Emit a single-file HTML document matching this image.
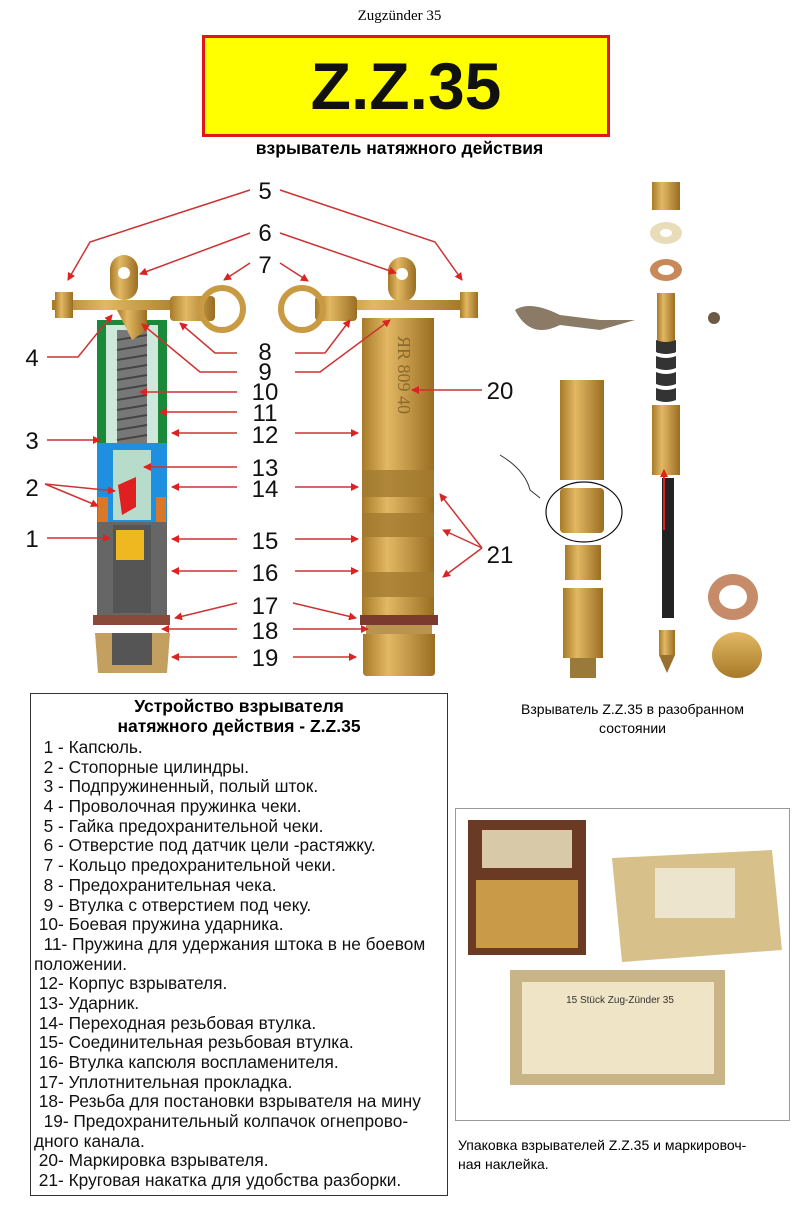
<!DOCTYPE html>
<html><head><meta charset="utf-8"><style>
body{margin:0;background:#fff;width:799px;height:1209px;overflow:hidden;position:relative;font-family:"Liberation Sans",sans-serif}
.abs{position:absolute}
.list div{height:19.7px;line-height:19.7px;white-space:nowrap}
</style></head><body>
<div class="abs" style="left:0;top:8px;width:799px;text-align:center;font-family:'Liberation Serif',serif;font-size:15px">Zugzünder 35</div>
<div class="abs" style="left:202px;top:35px;width:402px;height:96px;background:#ffff00;border:3px solid #e0161b;text-align:center;line-height:96px;font-weight:bold;font-size:66px;color:#111">Z.Z.35</div>
<div class="abs" style="left:0;top:138px;width:799px;text-align:center;font-weight:bold;font-size:17.5px">взрыватель натяжного действия</div>

<svg class="abs" style="left:0;top:0" width="799" height="1209">
<defs>
<marker id="ar" markerWidth="8" markerHeight="8" refX="7" refY="4" orient="auto" markerUnits="userSpaceOnUse"><path d="M0,0L8,4L0,8z" fill="#d22"/></marker>
<linearGradient id="g" x1="0" x2="1"><stop offset="0" stop-color="#a77a28"/><stop offset=".35" stop-color="#e2b864"/><stop offset="1" stop-color="#9a6e22"/></linearGradient>
<linearGradient id="gv" x1="0" y1="0" x2="0" y2="1"><stop offset="0" stop-color="#e2b864"/><stop offset="1" stop-color="#a77a28"/></linearGradient>
</defs>
<!-- LEFT cutaway -->
<rect x="110" y="255" width="28" height="45" rx="14" fill="url(#g)"/><circle cx="124" cy="273" r="6" fill="#fff"/>
<rect x="52" y="300" width="150" height="10" fill="url(#g)"/>
<rect x="55" y="292" width="18" height="26" fill="url(#g)"/>
<rect x="170" y="296" width="45" height="25" rx="4" fill="url(#g)"/>
<circle cx="222" cy="309" r="21" fill="none" stroke="#c89a42" stroke-width="6"/>
<rect x="97" y="320" width="70" height="147" fill="#1a8a3a"/>
<rect x="106" y="325" width="52" height="135" fill="#cfe8dc"/>
<rect x="117" y="330" width="30" height="120" fill="#777"/>
<g stroke="#444" stroke-width="2"><path d="M117,340l30,-5M117,350l30,-5M117,360l30,-5M117,370l30,-5M117,380l30,-5M117,390l30,-5M117,400l30,-5M117,410l30,-5M117,420l30,-5M117,430l30,-5M117,440l30,-5"/></g>
<path d="M117,310h30v20l-15,10z" fill="url(#g)"/>
<rect x="97" y="443" width="70" height="79" fill="#1f8fe0"/>
<rect x="113" y="450" width="38" height="70" fill="#b8dccc"/>
<path d="M118,485l18,-8v30l-14,8z" fill="#e02020"/>
<rect x="98" y="497" width="10" height="40" fill="#d8782a"/><rect x="156" y="497" width="10" height="40" fill="#d8782a"/>
<rect x="97" y="522" width="70" height="93" fill="#666"/>
<rect x="113" y="525" width="38" height="88" fill="#555"/>
<rect x="116" y="530" width="28" height="30" fill="#f0b820"/>
<rect x="93" y="615" width="77" height="10" fill="#8a4a3a"/>
<path d="M95,633h75l-3,40h-69z" fill="#c4a060"/><rect x="112" y="633" width="40" height="32" fill="#555"/>
<!-- RIGHT -->
<rect x="388" y="257" width="28" height="45" rx="14" fill="url(#g)"/><circle cx="402" cy="274" r="6" fill="#fff"/>
<rect x="318" y="300" width="158" height="10" fill="url(#g)"/>
<rect x="460" y="292" width="18" height="26" fill="url(#g)"/>
<rect x="315" y="296" width="42" height="25" rx="4" fill="url(#g)"/>
<circle cx="302" cy="309" r="21" fill="none" stroke="#c89a42" stroke-width="6"/>
<rect x="362" y="318" width="72" height="297" fill="url(#g)"/>
<g fill="#a37a30" opacity=".8"><rect x="362" y="470" width="72" height="27"/><rect x="362" y="513" width="72" height="24"/><rect x="362" y="572" width="72" height="25"/></g>
<text x="398" y="330" transform="rotate(90 398 330)" font-family="Liberation Serif" font-size="18" fill="#8a6a30" dx="6">ЯR  809   40</text>
<rect x="360" y="615" width="78" height="10" fill="#7a3a2e"/>
<rect x="366" y="625" width="66" height="9" fill="#b99450"/>
<path d="M363,634h72v38q0,4,-4,4h-64q-4,0,-4,-4z" fill="url(#g)"/>
<!-- numbers -->
<g font-size="24" fill="#111" text-anchor="middle">
<text x="265" y="199">5</text><text x="265" y="241">6</text><text x="265" y="273">7</text>
<text x="265" y="360">8</text><text x="265" y="380">9</text><text x="265" y="400">10</text><text x="265" y="421">11</text>
<text x="265" y="443">12</text><text x="265" y="476">13</text><text x="265" y="497">14</text><text x="265" y="549">15</text>
<text x="265" y="581">16</text><text x="265" y="614">17</text><text x="265" y="639">18</text><text x="265" y="666">19</text>
<text x="32" y="366">4</text><text x="32" y="449">3</text><text x="32" y="496">2</text><text x="32" y="547">1</text>
<text x="500" y="399">20</text><text x="500" y="563">21</text>
</g>
<g stroke="#c33" stroke-width="1.5" fill="none" marker-end="url(#ar)">
<path d="M250,190L90,242L68,280"/><path d="M280,190L435,242L462,280"/>
<path d="M250,233L140,274"/><path d="M280,233L396,273"/>
<path d="M250,263L224,280"/><path d="M280,263L308,281"/>
<path d="M237,353H215L180,323"/><path d="M295,353H325L350,320"/>
<path d="M237,372H200L142,324"/><path d="M295,372H320L390,320"/>
<path d="M237,392H140"/><path d="M237,412H160"/>
<path d="M237,433H172"/><path d="M295,433H358"/>
<path d="M237,467H144"/><path d="M237,487H172"/><path d="M295,487H358"/>
<path d="M237,539H172"/><path d="M295,539H358"/>
<path d="M237,571H172"/><path d="M295,571H358"/>
<path d="M237,603L175,618"/><path d="M293,603L356,618"/>
<path d="M237,629H162"/><path d="M293,629H368"/>
<path d="M237,657H172"/><path d="M293,657H356"/>
<path d="M482,390H412"/>
<path d="M47,357H78L112,315"/><path d="M47,440H100"/><path d="M47,538H110"/>
<path d="M45,484L115,491"/><path d="M45,484L98,506"/>
<path d="M482,548L440,494"/><path d="M482,548L443,530"/><path d="M482,548L443,577"/>
</g>
<!-- exploded parts -->
<rect x="652" y="182" width="28" height="28" fill="url(#g)"/>
<ellipse cx="666" cy="233" rx="16" ry="11" fill="#e8ddb8"/><ellipse cx="666" cy="233" rx="6" ry="4" fill="#fff"/>
<ellipse cx="666" cy="270" rx="16" ry="11" fill="#c98858"/><ellipse cx="666" cy="270" rx="8" ry="5" fill="#fff"/>
<rect x="657" y="293" width="18" height="60" fill="url(#g)"/>
<path d="M656,340q10,4 20,0v12q-10,4-20,0z M656,356q10,4 20,0v12q-10,4-20,0z M656,372q10,4 20,0v12q-10,4-20,0z M656,388q10,4 20,0v12q-10,4-20,0z" fill="#333"/>
<rect x="652" y="405" width="28" height="70" fill="url(#g)"/>
<rect x="662" y="478" width="12" height="140" fill="#222"/>
<path d="M664,530V470" stroke="#d22" stroke-width="2" marker-end="url(#ar)"/>
<rect x="659" y="630" width="16" height="25" fill="url(#g)"/><path d="M659,655h16l-8,18z" fill="#9a7030"/>
<circle cx="714" cy="318" r="6" fill="#6b5a44"/>
<path d="M515,310q15,-10 45,5l40,5h35l-35,10l-40,-5q-30,15-45,-15z" fill="#8a7a66"/>
<rect x="560" y="380" width="44" height="100" fill="url(#g)"/>
<rect x="560" y="488" width="44" height="45" rx="4" fill="url(#g)"/>
<ellipse cx="584" cy="512" rx="38" ry="30" fill="none" stroke="#111" stroke-width="1.2"/>
<path d="M500,455q25,15 30,35l10,8" stroke="#333" fill="none"/>
<rect x="565" y="545" width="36" height="35" fill="url(#g)"/>
<rect x="563" y="588" width="40" height="70" fill="url(#g)"/>
<rect x="570" y="658" width="26" height="20" fill="#9a7a3a"/>
<ellipse cx="733" cy="597" rx="25" ry="23" fill="#c68c6a"/><ellipse cx="733" cy="597" rx="14" ry="12" fill="#fff"/>
<ellipse cx="737" cy="655" rx="25" ry="23" fill="url(#gv)"/>
<!-- text box -->
<rect x="30.5" y="693.5" width="417" height="502" fill="none" stroke="#333" stroke-width="1"/>
<!-- photo box -->
<rect x="455.5" y="808.5" width="334" height="312" fill="#fff" stroke="#999"/>
<rect x="468" y="820" width="118" height="135" fill="#6a3a24"/>
<rect x="476" y="880" width="102" height="68" fill="#c99a48"/>
<rect x="482" y="830" width="90" height="38" fill="#d8c9a8"/>
<path d="M612,858l160,-8l10,100l-160,12z" fill="#d8c08a"/>
<rect x="655" y="868" width="80" height="50" fill="#ece4cc"/>
<rect x="510" y="970" width="215" height="115" fill="#c8b486"/>
<rect x="522" y="982" width="192" height="92" fill="#efe4c6"/>
<text x="620" y="1003" text-anchor="middle" font-size="10" fill="#333">15 Stück Zug-Zünder 35</text>
</svg>

<div class="abs" style="left:30px;top:696px;width:418px;text-align:center;font-weight:bold;font-size:17.5px;line-height:20px">Устройство взрывателя<br>натяжного действия - Z.Z.35</div>
<div class="abs list" style="left:34px;top:738px;font-size:17.3px;color:#111">
<div>&nbsp;&nbsp;1 - Капсюль.</div>
<div>&nbsp;&nbsp;2 - Стопорные цилиндры.</div>
<div>&nbsp;&nbsp;3 - Подпружиненный, полый шток.</div>
<div>&nbsp;&nbsp;4 - Проволочная пружинка чеки.</div>
<div>&nbsp;&nbsp;5 - Гайка предохранительной чеки.</div>
<div>&nbsp;&nbsp;6 - Отверстие под датчик цели -растяжку.</div>
<div>&nbsp;&nbsp;7 - Кольцо предохранительной чеки.</div>
<div>&nbsp;&nbsp;8 - Предохранительная чека.</div>
<div>&nbsp;&nbsp;9 - Втулка с отверстием под чеку.</div>
<div>&nbsp;10- Боевая пружина ударника.</div>
<div>&nbsp;&nbsp;11- Пружина для удержания штока в не боевом</div>
<div>положении.</div>
<div>&nbsp;12- Корпус взрывателя.</div>
<div>&nbsp;13- Ударник.</div>
<div>&nbsp;14- Переходная резьбовая втулка.</div>
<div>&nbsp;15- Соединительная резьбовая втулка.</div>
<div>&nbsp;16- Втулка капсюля воспламенителя.</div>
<div>&nbsp;17- Уплотнительная прокладка.</div>
<div>&nbsp;18- Резьба для постановки взрывателя на мину</div>
<div>&nbsp;&nbsp;19- Предохранительный колпачок огнепрово-</div>
<div>дного канала.</div>
<div>&nbsp;20- Маркировка взрывателя.</div>
<div>&nbsp;21- Круговая накатка для удобства разборки.</div>
</div>
<div class="abs" style="left:500px;top:700px;width:265px;text-align:center;font-size:14px;line-height:19px">Взрыватель Z.Z.35 в разобранном<br>состоянии</div>
<div class="abs" style="left:458px;top:1136px;width:330px;font-size:14px;line-height:19px">Упаковка взрывателей Z.Z.35 и маркировоч-<br>ная наклейка.</div>
</body></html>
